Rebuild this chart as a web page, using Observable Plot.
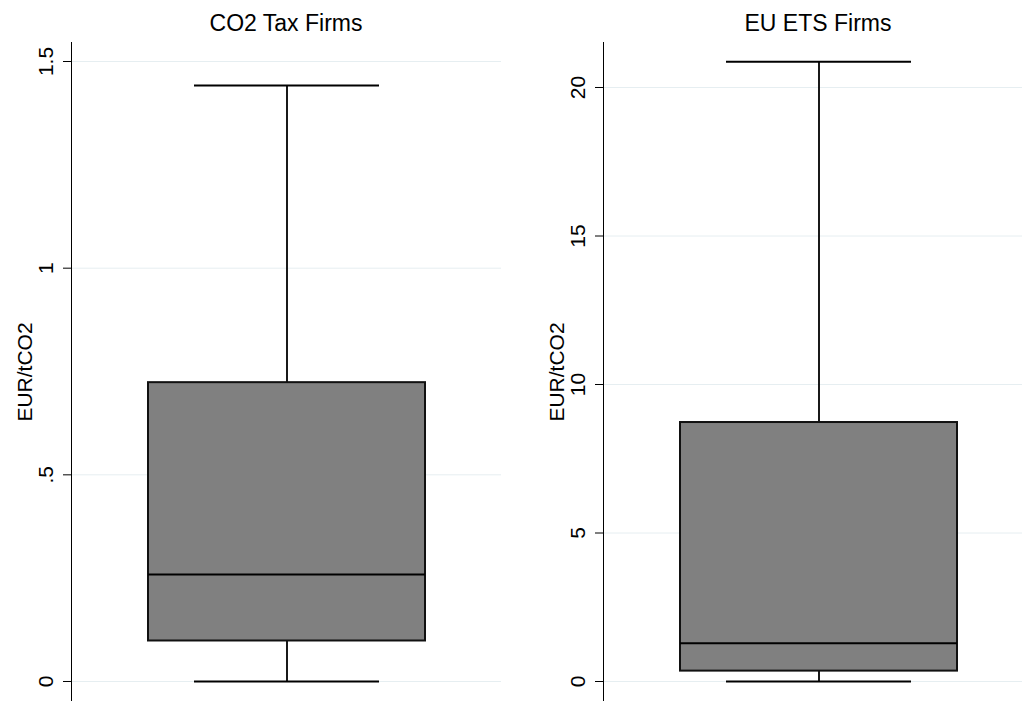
<!DOCTYPE html>
<html><head><meta charset="utf-8">
<script src="https://cdn.jsdelivr.net/npm/d3@7"></script>
<script src="https://cdn.jsdelivr.net/npm/@observablehq/plot@0.6"></script>
<style>
body{margin:0;background:#fff;width:1022px;height:701px;overflow:hidden;position:relative;font-family:"Liberation Sans",Arial,sans-serif;}
.title{position:absolute;top:11px;font-size:23px;line-height:24px;text-align:center;color:#000;white-space:nowrap;}
.plot{position:absolute;top:41px;}
.plot svg{max-width:none !important;}
</style></head><body>
<div class="title" style="left:86px;width:400px">CO2 Tax Firms</div>
<div class="title" style="left:618px;width:400px">EU ETS Firms</div>
<div id="p0" class="plot" style="left:0;width:511px"></div>
<div id="p1" class="plot" style="left:511px;width:522px"></div>
<script>
const panels = ["CO2 Tax Firms", "EU ETS Firms"];
const minVals = [0, 0];
const q1Vals = [0.098, 0.35];
const medianVals = [0.259, 1.29];
const q3Vals = [0.723, 8.72];
const maxVals = [1.442, 20.87];
const leftTicks = [0, 0.5, 1, 1.5];
const leftTickLabels = ["0", ".5", "1", "1.5"];
const rightTicks = [0, 5, 10, 15, 20];
const rightTickLabels = ["0", "5", "10", "15", "20"];
const yLabel = "EUR/tCO2";

const grid = "#e6eef1";
const font = "'Liberation Sans', Arial, sans-serif";

function drawPanel(i, ticks, labels, domain, width, marginLeft, marginRight) {
  const row = {name: panels[i], min: minVals[i], q1: q1Vals[i], median: medianVals[i], q3: q3Vals[i], max: maxVals[i]};
  const chart = Plot.plot({
    width, height: 660,
    marginTop: 1, marginBottom: 0, marginLeft, marginRight,
    style: {fontFamily: font, fontSize: "21px", background: "#fff", color: "#000", maxWidth: "none"},
    x: {type: "band", domain: [row.name], padding: 0.2164, axis: null},
    y: {domain},
    marks: [
      Plot.ruleY(ticks, {stroke: grid, strokeWidth: 1}),
      Plot.ruleX([row], {x: "name", y1: "q3", y2: "max", stroke: "#000", strokeWidth: 1.8}),
      Plot.ruleX([row], {x: "name", y1: "min", y2: "q1", stroke: "#000", strokeWidth: 1.8}),
      Plot.barY([row], {x: "name", y1: "q1", y2: "q3", fill: "#808080", stroke: "#111", strokeWidth: 2}),
      Plot.tickY([row], {x: "name", y: "median", stroke: "#000", strokeWidth: 2}),
      Plot.tickY([row], {x: "name", y: "max", insetLeft: 46, insetRight: 46, stroke: "#000", strokeWidth: 2}),
      Plot.tickY([row], {x: "name", y: "min", insetLeft: 46, insetRight: 46, stroke: "#000", strokeWidth: 2}),
      Plot.frame({anchor: "left", stroke: "#000", strokeWidth: 1}),
      Plot.axisY({ticks, tickSize: 8, tickFormat: () => "", label: null, stroke: "#000"}),
      Plot.text(ticks, {y: d => d, text: (d, j) => labels[j], frameAnchor: "left", dx: -19, rotate: -90, lineAnchor: "bottom", textAnchor: "middle", fontSize: 21, fill: "#000"}),
      Plot.text([yLabel], {text: d => d, frameAnchor: "left", dx: -40, rotate: -90, lineAnchor: "bottom", textAnchor: "middle", fontSize: 21, fill: "#000"})
    ]
  });
  document.getElementById("p" + i).appendChild(chart);
}

drawPanel(0, leftTicks, leftTickLabels, [-0.0484, 1.546], 511, 71, 10);
drawPanel(1, rightTicks, rightTickLabels, [-0.673, 21.515], 522, 92, 0);
</script>
</body></html>
